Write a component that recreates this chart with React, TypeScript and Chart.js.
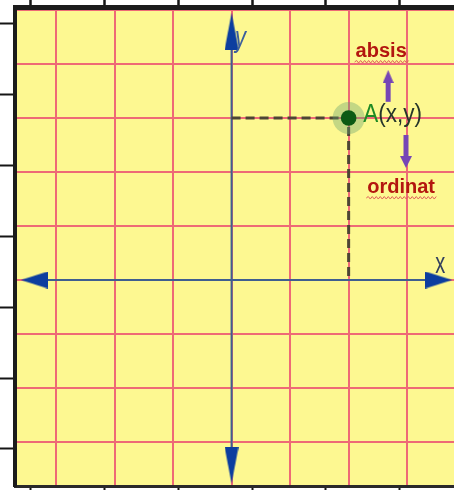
import { useEffect, useRef } from 'react';
import { Chart, registerables } from 'chart.js';

Chart.register(...registerables);

// Plane extents (grid units)
const xExtent = [-3.7, 3.8];
const yExtent = [-3.815, 5.056];
// Frame ruler extents (ruler units)
const rulerXExtent = [-0.217, 5.74];
const rulerYExtent = [-0.525, 6.24];

// Marks
const pointA = [{ x: 2, y: 3 }];
const projectionPath = [
  { x: 0, y: 3 },
  { x: 2, y: 3 },
  { x: 2, y: 0 },
];
const xAxisPath = [
  { x: -3.45, y: 0 },
  { x: 3.6, y: 0 },
];
const yAxisPath = [
  { x: 0, y: 4.7 },
  { x: 0, y: -3.5 },
];
const axisArrowHeads = [
  { x: -3.37, y: 0 },
  { x: 3.54, y: 0 },
  { x: 0, y: 4.61 },
  { x: 0, y: -3.43 },
];
const axisArrowRotation = [270, 90, 0, 180];
const absisShaft = [
  { x: 2.675, y: 3.3 },
  { x: 2.675, y: 3.68 },
];
const absisHead = [{ x: 2.675, y: 3.77 }];
const ordinatShaft = [
  { x: 2.98, y: 2.685 },
  { x: 2.98, y: 2.27 },
];
const ordinatHead = [{ x: 2.98, y: 2.185 }];

// Texts
const noteTexts = ['absis', 'ordinat'];
const notePositions = [
  { x: 2.556, y: 4.13 },
  { x: 2.897, y: 1.611 },
];
const pointLabelParts = ['A', '(x,y)'];
const pointLabelPosition = { x: 2.248, y: 2.926 };
const axisNames = ['x', 'y'];
const axisNamePositions = [
  { x: 3.479, y: 0.13 },
  { x: 0.06, y: 4.31 },
];

function makeTriangle(wid: number, len: number, color: string) {
  const c = document.createElement('canvas');
  c.width = wid;
  c.height = len;
  const g = c.getContext('2d')!;
  g.fillStyle = color;
  g.beginPath();
  g.moveTo(wid / 2, 0);
  g.lineTo(wid, len);
  g.lineTo(0, len);
  g.closePath();
  g.fill();
  return c;
}

function drawScaled(
  ctx: CanvasRenderingContext2D,
  text: string,
  x: number,
  y: number,
  font: string,
  color: string,
  sx = 1,
  sy = 1,
  align: CanvasTextAlign = 'left'
) {
  ctx.save();
  ctx.translate(x, y);
  ctx.scale(sx, sy);
  ctx.font = font;
  ctx.fillStyle = color;
  ctx.textAlign = align;
  ctx.textBaseline = 'alphabetic';
  ctx.fillText(text, 0, 0);
  ctx.restore();
}

function squiggle(ctx: CanvasRenderingContext2D, x0: number, x1: number, y: number) {
  ctx.save();
  ctx.strokeStyle = '#e2605c';
  ctx.lineWidth = 1;
  ctx.beginPath();
  let up = true;
  ctx.moveTo(x0, y);
  for (let x = x0 + 2; x <= x1; x += 2) {
    ctx.lineTo(x, up ? y - 1.5 : y + 1);
    up = !up;
  }
  ctx.stroke();
  ctx.restore();
}

const backgroundPlugin = {
  id: 'planeBackground',
  beforeDraw(chart: any) {
    const { ctx, chartArea } = chart;
    ctx.save();
    ctx.fillStyle = '#fdf891';
    ctx.fillRect(chartArea.left, chartArea.top, chartArea.right - chartArea.left, chartArea.bottom - chartArea.top);
    ctx.restore();
  },
};

const textPlugin = {
  id: 'planeTexts',
  afterDatasetsDraw(chart: any) {
    const { ctx } = chart;
    const xs = chart.scales.x;
    const ys = chart.scales.y;
    // notes
    const noteFont = 'bold 20px "Liberation Sans", Arial, sans-serif';
    noteTexts.forEach((t, i) => {
      const px = xs.getPixelForValue(notePositions[i].x);
      const py = ys.getPixelForValue(notePositions[i].y);
      drawScaled(ctx, t, px, py, noteFont, '#b3170f', 1, 1, 'center');
      ctx.save();
      ctx.font = noteFont;
      const w = ctx.measureText(t).width;
      ctx.restore();
      squiggle(ctx, px - w / 2 - 1, px + w / 2 + 3, py + 5);
    });
    // point label
    const lx = xs.getPixelForValue(pointLabelPosition.x);
    const ly = ys.getPixelForValue(pointLabelPosition.y);
    const labelFont = '25px "Liberation Sans", Arial, sans-serif';
    ctx.save();
    ctx.font = labelFont;
    const aw = ctx.measureText(pointLabelParts[0]).width * 0.9;
    ctx.restore();
    drawScaled(ctx, pointLabelParts[0], lx, ly, labelFont, '#1f8a24', 0.9, 1);
    drawScaled(ctx, pointLabelParts[1], lx + aw, ly, labelFont, '#26362a', 0.9, 1);
    // axis names
    drawScaled(
      ctx,
      axisNames[0],
      xs.getPixelForValue(axisNamePositions[0].x),
      ys.getPixelForValue(axisNamePositions[0].y),
      '20px "Liberation Sans", Arial, sans-serif',
      '#33405e',
      1,
      1.5
    );
    drawScaled(
      ctx,
      axisNames[1],
      xs.getPixelForValue(axisNamePositions[1].x),
      ys.getPixelForValue(axisNamePositions[1].y),
      'italic 22px "Liberation Sans", Arial, sans-serif',
      '#3d5f9c',
      1,
      1.3
    );
  },
};

export default function App() {
  const ref = useRef<HTMLCanvasElement | null>(null);

  useEffect(() => {
    if (!ref.current) return;
    const blueH = makeTriangle(17, 27, '#0c3e9f');
    const blueV = makeTriangle(14, 37, '#0c3e9f');
    const purpleUp = makeTriangle(11, 13, '#7646b6');
    const purpleDown = makeTriangle(12, 12, '#7646b6');

    const gridColor = '#ee6a76';
    const chart = new Chart(ref.current, {
      type: 'scatter',
      data: {
        datasets: [
          {
            label: 'A',
            data: pointA,
            pointRadius: 7.8,
            pointBackgroundColor: '#0c5a14',
            pointBorderWidth: 0,
            order: 0,
          },
          {
            label: 'axis arrows',
            data: axisArrowHeads,
            pointStyle: [blueH, blueH, blueV, blueV] as any,
            pointRotation: axisArrowRotation,
            pointRadius: 10,
            order: 1,
          },
          {
            label: 'absis arrow',
            data: absisShaft,
            showLine: true,
            borderColor: '#7646b6',
            borderWidth: 5,
            borderCapStyle: 'butt',
            pointRadius: 0,
            order: 2,
          },
          {
            label: 'absis head',
            data: absisHead,
            pointStyle: purpleUp as any,
            pointRotation: 0,
            pointRadius: 6,
            order: 2,
          },
          {
            label: 'ordinat arrow',
            data: ordinatShaft,
            showLine: true,
            borderColor: '#7646b6',
            borderWidth: 5,
            borderCapStyle: 'butt',
            pointRadius: 0,
            order: 2,
          },
          {
            label: 'ordinat head',
            data: ordinatHead,
            pointStyle: purpleDown as any,
            pointRotation: 180,
            pointRadius: 6,
            order: 2,
          },
          {
            label: 'halo',
            data: pointA,
            pointRadius: 16,
            pointBackgroundColor: 'rgba(100,160,110,0.38)',
            pointBorderWidth: 0,
            order: 3,
          },
          {
            label: 'projection',
            data: projectionPath,
            showLine: true,
            borderColor: '#4d4535',
            borderWidth: 3,
            borderDash: [9, 5],
            pointRadius: 0,
            order: 4,
          },
          {
            label: 'x axis',
            data: xAxisPath,
            showLine: true,
            borderColor: '#3f5f90',
            borderWidth: 2,
            pointRadius: 0,
            order: 6,
          },
          {
            label: 'y axis',
            data: yAxisPath,
            showLine: true,
            borderColor: '#3f5f90',
            borderWidth: 2,
            pointRadius: 0,
            order: 6,
          },
        ],
      },
      options: {
        animation: false,
        responsive: true,
        maintainAspectRatio: false,
        events: [],
        layout: { padding: 0, autoPadding: false },
        plugins: {
          legend: { display: false },
          tooltip: { enabled: false },
          title: { display: false },
        },
        scales: {
          x: {
            type: 'linear',
            position: 'bottom',
            min: xExtent[0],
            max: xExtent[1],
            ticks: { display: false, stepSize: 1, includeBounds: false },
            grid: { color: gridColor, lineWidth: 2, drawTicks: false },
            border: { display: false },
          },
          y: {
            type: 'linear',
            position: 'left',
            min: yExtent[0],
            max: yExtent[1],
            ticks: { display: false, stepSize: 1, includeBounds: false },
            grid: { color: gridColor, lineWidth: 2, drawTicks: false },
            border: { display: false },
          },
          rulerTop: {
            type: 'linear',
            axis: 'x',
            position: 'top',
            min: rulerXExtent[0],
            max: rulerXExtent[1],
            ticks: { display: false, stepSize: 1, includeBounds: false },
            grid: {
              drawOnChartArea: false,
              drawTicks: true,
              tickLength: 7,
              color: '#151515',
              tickColor: '#151515',
              tickWidth: 2.5,
            },
            border: { display: true, color: '#1c1c1c', width: 5 },
          },
          rulerBottom: {
            type: 'linear',
            axis: 'x',
            position: 'bottom',
            min: rulerXExtent[0],
            max: rulerXExtent[1],
            ticks: { display: false, stepSize: 1, includeBounds: false },
            grid: {
              drawOnChartArea: false,
              drawTicks: true,
              tickLength: 4,
              color: '#151515',
              tickColor: '#151515',
              tickWidth: 2,
            },
            border: { display: true, color: '#2a2a2a', width: 3 },
          },
          rulerLeft: {
            type: 'linear',
            axis: 'y',
            position: 'left',
            min: rulerYExtent[0],
            max: rulerYExtent[1],
            ticks: { display: false, stepSize: 1, includeBounds: false },
            grid: {
              drawOnChartArea: false,
              drawTicks: true,
              tickLength: 15,
              color: '#151515',
              tickColor: '#151515',
              tickWidth: 2,
            },
            border: { display: true, color: '#1c1c1c', width: 4 },
          },
        },
      } as any,
      plugins: [backgroundPlugin, textPlugin],
    });
    return () => chart.destroy();
  }, []);

  return (
    <div style={{ position: 'fixed', left: 0, top: 0, width: 454, height: 490, background: '#ffffff' }}>
      <canvas ref={ref} />
    </div>
  );
}
